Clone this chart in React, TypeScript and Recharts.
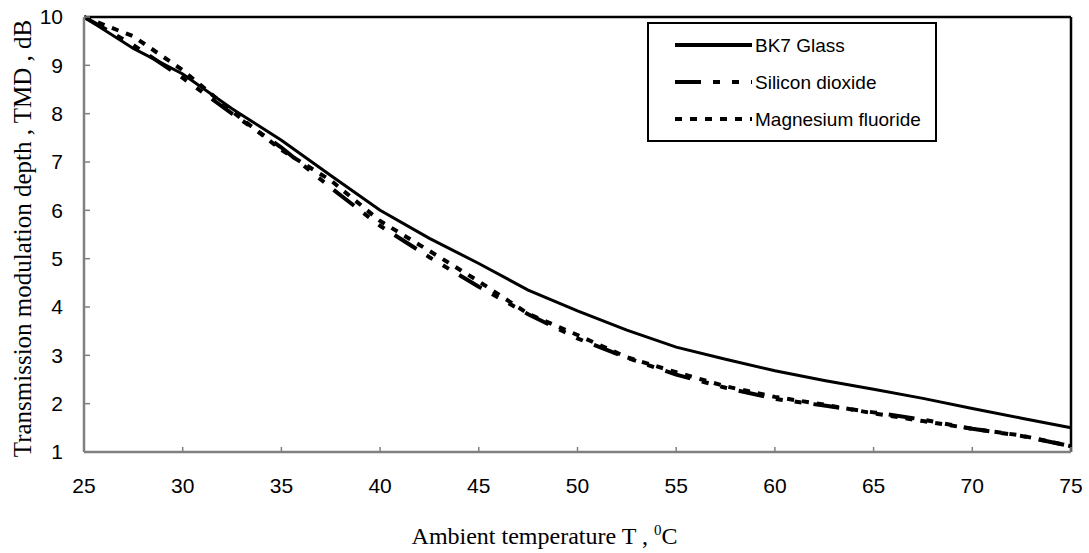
import { Legend, Line, LineChart, ReferenceLine, XAxis, YAxis } from "recharts";

// ambient temperature, degC
const temps = [
  25, 27.5, 30, 32.5, 35, 37.5, 40, 42.5, 45, 47.5, 50, 52.5, 55, 57.5, 60,
  62.5, 65, 67.5, 70, 72.5, 75,
];
// TMD, dB
const bk7 = [
  10, 9.35, 8.82, 8.1, 7.45, 6.72, 6.0, 5.42, 4.9, 4.35, 3.92, 3.52, 3.17,
  2.92, 2.68, 2.48, 2.3, 2.11, 1.9, 1.7, 1.5,
];
const sio2 = [
  10, 9.42, 8.74, 8.0, 7.3, 6.47, 5.68, 5.03, 4.42, 3.85, 3.35, 2.95, 2.6,
  2.33, 2.1, 1.96, 1.82, 1.67, 1.48, 1.33, 1.12,
];
const mgf2 = [
  10, 9.6, 8.9, 8.05, 7.25, 6.62, 5.78, 5.16, 4.53, 3.86, 3.42, 2.96, 2.65,
  2.36, 2.14, 1.98, 1.8, 1.64, 1.48, 1.34, 1.12,
];

const xTicks = [25, 30, 35, 40, 45, 50, 55, 60, 65, 70, 75];
const yTicks = [1, 2, 3, 4, 5, 6, 7, 8, 9, 10];

const series = [
  { key: "bk7", name: "BK7 Glass", dash: undefined, width: 3 },
  { key: "sio2", name: "Silicon dioxide", dash: "26 12 7 12 7 12", width: 4 },
  { key: "mgf2", name: "Magnesium fluoride", dash: "7 8", width: 4 },
];

const data = temps.map((t, i) => ({
  t,
  bk7: bk7[i],
  sio2: sio2[i],
  mgf2: mgf2[i],
}));

const axisColor = "#808080";
const tickFont = { fill: "#000", fontFamily: "Liberation Sans", fontSize: 21 };

function LegendBox() {
  return (
    <div
      style={{
        width: 290,
        height: 120,
        border: "2.5px solid #000",
        boxSizing: "border-box",
        background: "#fff",
      }}
    >
      <svg width={286} height={116}>
        {series.map((s, i) => {
          const y = 21 + i * 37;
          return (
            <g key={s.key}>
              <line
                x1={26}
                x2={103}
                y1={y}
                y2={y}
                stroke="#000"
                strokeWidth={4}
                strokeDasharray={s.dash}
              />
              <text
                x={106}
                y={y + 7}
                fontFamily="Liberation Sans"
                fontSize={19}
                fill="#000"
              >
                {s.name}
              </text>
            </g>
          );
        })}
      </svg>
    </div>
  );
}

export default function App() {
  return (
    <div style={{ position: "absolute", left: 0, top: 0, background: "#fff" }}>
      <LineChart
        width={1089}
        height={553}
        data={data}
        margin={{ top: 17, right: 18, left: 0, bottom: 41 }}
      >
        <XAxis
          dataKey="t"
          type="number"
          domain={[25, 75]}
          ticks={xTicks}
          height={60}
          tickSize={-5}
          tickMargin={31}
          tick={tickFont}
          axisLine={{ stroke: axisColor, strokeWidth: 2.5 }}
          tickLine={{ stroke: axisColor, strokeWidth: 1.5 }}
          label={{
            content: ({ viewBox }: any) => (
              <text
                x={viewBox.x + viewBox.width / 2 - 33}
                y={viewBox.y + 92}
                textAnchor="middle"
                fontFamily="Liberation Serif"
                fontSize={24}
                fill="#000"
              >
                Ambient temperature T ,{" "}
                <tspan dy={-9} fontSize={15}>
                  0
                </tspan>
                <tspan dy={9}>C</tspan>
              </text>
            ),
          }}
        />
        <YAxis
          type="number"
          domain={[1, 10]}
          ticks={yTicks}
          width={84}
          tickSize={-6}
          tickMargin={27}
          tick={tickFont}
          axisLine={{ stroke: axisColor, strokeWidth: 2.5 }}
          tickLine={{ stroke: axisColor, strokeWidth: 1.5 }}
          label={{
            content: ({ viewBox }: any) => {
              const cx = viewBox.x + 22;
              const cy = viewBox.y + viewBox.height / 2 + 4;
              return (
                <text
                  x={cx}
                  y={cy}
                  transform={`rotate(-90 ${cx} ${cy})`}
                  textAnchor="middle"
                  dominantBaseline="central"
                  fontFamily="Liberation Serif"
                  fontSize={25}
                  fill="#000"
                >
                  Transmission modulation depth , TMD , dB
                </text>
              );
            },
          }}
        />
        <ReferenceLine y={10} stroke="#000" strokeWidth={2.5} ifOverflow="visible" />
        <ReferenceLine x={75} stroke="#000" strokeWidth={2.5} ifOverflow="visible" />
        {series.map((s) => (
          <Line
            key={s.key}
            dataKey={s.key}
            name={s.name}
            type="linear"
            stroke="#000"
            strokeWidth={s.width}
            strokeDasharray={s.dash}
            dot={false}
            activeDot={false}
            isAnimationActive={false}
          />
        ))}
        <Legend
          layout="vertical"
          align="center"
          verticalAlign="middle"
          content={() => <LegendBox />}
          wrapperStyle={{ left: 647, top: 22, width: 290, height: 120 }}
        />
      </LineChart>
    </div>
  );
}
